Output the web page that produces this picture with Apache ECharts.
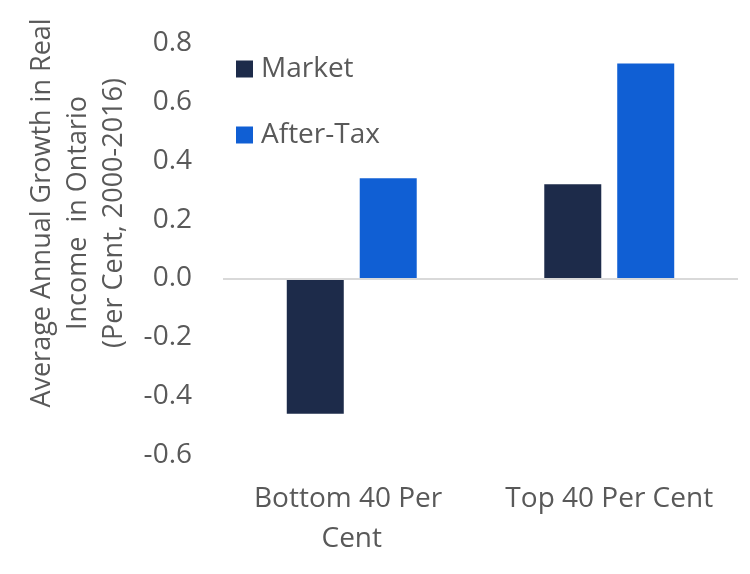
<!DOCTYPE html>
<html>
<head>
<meta charset="utf-8">
<script src="https://cdn.jsdelivr.net/npm/echarts@6/dist/echarts.min.js"></script>
<style>
html,body{margin:0;padding:0;background:#fff;}
#chart{width:750px;height:574px;}
</style>
</head>
<body>
<div id="chart"></div>
<script>
const categories = ["Bottom 40 Per Cent", "Top 40 Per Cent"];
const marketValues = [-0.46, 0.32];
const afterTaxValues = [0.34, 0.73];
const seriesNames = ["Market", "After-Tax"];
const yAxisTitle = "Average Annual Growth in Real\nIncome  in Ontario\n(Per Cent, 2000-2016)";

const FONT = "'Open Sans', 'Noto Sans', sans-serif";
const TXT = "#595959";

const chart = echarts.init(document.getElementById('chart'), null, {renderer: 'canvas'});
chart.setOption({
  animation: false,
  backgroundColor: '#ffffff',
  textStyle: {fontFamily: FONT},
  grid: {left: 223, right: 12, top: 43, bottom: 119, containLabel: false},
  legend: {
    orient: 'vertical',
    left: 236,
    top: 52,
    padding: 0,
    itemWidth: 17,
    itemHeight: 17,
    itemGap: 32,
    icon: 'rect',
    textStyle: {fontSize: 28, color: TXT, fontFamily: FONT, lineHeight: 34, padding: [0, 0, 0, 3]},
    data: seriesNames
  },
  xAxis: {
    type: 'category',
    data: categories,
    axisLine: {show: false, onZero: false},
    axisTick: {show: false},
    axisLabel: {
      color: TXT, fontSize: 28, fontFamily: FONT, lineHeight: 40, margin: 24,
      width: 235, overflow: 'break', interval: 0
    }
  },
  yAxis: {
    type: 'value',
    min: -0.6,
    max: 0.8,
    interval: 0.2,
    axisLine: {show: false},
    axisTick: {show: false},
    splitLine: {show: false},
    axisLabel: {
      color: TXT, fontSize: 28, fontFamily: FONT, margin: 31,
      formatter: v => v.toFixed(1)
    },
    name: yAxisTitle,
    nameLocation: 'middle',
    nameRotate: 90,
    nameGap: 90,
    nameTextStyle: {color: TXT, fontSize: 27, fontFamily: FONT, lineHeight: 36, align: 'center', padding: [0, 0, 0, 72]}
  },
  series: [
    {
      name: seriesNames[0],
      type: 'bar',
      data: marketValues,
      barWidth: 57,
      barGap: '28%',
      itemStyle: {color: '#1d2b4a'},
      markLine: {
        silent: true,
        symbol: 'none',
        label: {show: false},
        lineStyle: {color: '#d9d9d9', width: 2, type: 'solid'},
        data: [{yAxis: 0}]
      }
    },
    {
      name: seriesNames[1],
      type: 'bar',
      data: afterTaxValues,
      barWidth: 57,
      barGap: '28%',
      itemStyle: {color: '#105fd4'}
    }
  ]
});
</script>
</body>
</html>
